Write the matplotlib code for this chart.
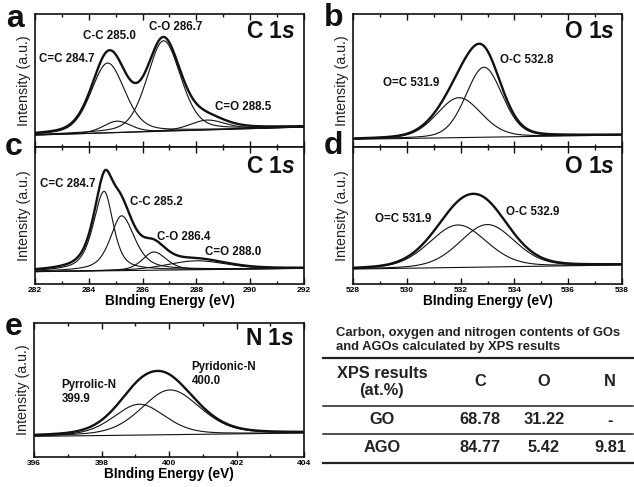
import numpy as np
import matplotlib
matplotlib.use("Agg")
import matplotlib.pyplot as plt
from matplotlib.lines import Line2D

plt.rcParams['font.family'] = ['Liberation Sans', 'DejaVu Sans']
plt.rcParams['mathtext.fontset'] = 'custom'
plt.rcParams['mathtext.it'] = 'Liberation Sans:italic:bold'
plt.rcParams['mathtext.rm'] = 'Liberation Sans:bold'

# ---------------- data ----------------
# panel a: C 1s of GO
a_range = [282, 292]
a_names = ["C=C 284.7", "C-C 285.0", "C-O 286.7", "C=O 288.5"]
a_centers = [284.70, 285.05, 286.78, 288.40]
a_heights = [52.5, 8.6, 68.0, 7.4]
a_fwhm_left = [1.45, 1.2, 1.45, 1.5]
a_fwhm_right = [1.5, 1.2, 1.5, 1.6]
a_eta = [0.3, 0.3, 0.3, 0.3]
a_background = [9.0, 15.0]

# panel b: O 1s of GO
b_range = [528, 538]
b_names = ["O=C 531.9", "O-C 532.8"]
b_centers = [531.94, 532.87]
b_heights = [30.0, 52.6]
b_fwhm_left = [1.95, 1.6]
b_fwhm_right = [1.95, 1.6]
b_eta = [0.2, 0.2]
b_background = [5.8, 9.0]

# panel c: C 1s of AGO
c_range = [282, 292]
c_names = ["C=C 284.7", "C-C 285.2", "C-O 286.4", "C=O 288.0"]
c_centers = [284.57, 285.22, 286.42, 288.0]
c_heights = [58.0, 40.0, 13.3, 6.5]
c_fwhm_left = [0.95, 1.0, 1.0, 2.6]
c_fwhm_right = [0.8, 1.15, 1.1, 2.6]
c_eta = [0.6, 0.6, 0.4, 0.3]
c_background = [9.0, 11.4]

# panel d: O 1s of AGO
d_range = [528, 538]
d_names = ["O=C 531.9", "O-C 532.9"]
d_centers = [531.90, 532.99]
d_heights = [31.0, 31.0]
d_fwhm_left = [2.5, 2.4]
d_fwhm_right = [2.5, 2.4]
d_eta = [0.2, 0.2]
d_background = [10.9, 13.9]

# panel e: N 1s of AGO
e_range = [396, 404]
e_names = ["Pyrrolic-N\n399.9", "Pyridonic-N\n400.0"]
e_centers = [399.12, 400.03]
e_heights = [23.0, 33.4]
e_fwhm_left = [1.8, 2.0]
e_fwhm_right = [1.8, 2.1]
e_eta = [0.3, 0.3]
e_background = [15.4, 17.9]

# table
table_title = "Carbon, oxygen and nitrogen contents of GOs\nand AGOs calculated by XPS results"
table_header = ["XPS results\n(at.%)", "C", "O", "N"]
table_samples = ["GO", "AGO"]
table_C = ["68.78", "84.77"]
table_O = ["31.22", "5.42"]
table_N = ["-", "9.81"]

# ---------------- drawing ----------------
W, H = 634, 487
fig = plt.figure(figsize=(W / 100, H / 100), dpi=100)

def fx(px):
    return px / W

def fy(py):
    return 1 - py / H

def add_ax(l, t, r, b):
    return fig.add_axes([fx(l), fy(b), fx(r) - fx(l), fy(t) - fy(b)])

INK = '#111111'

def voigt(x, c, h, wl, wr, eta):
    w = np.where(x < c, wl, wr) / 2.0
    u = ((x - c) / w) ** 2
    return h * ((1 - eta) * np.exp(-np.log(2) * u) + eta / (1 + u))

def draw_panel(ax, xr, centers, heights, wl, wr, eta, bg, show_xlabels):
    x = np.linspace(xr[0], xr[1], 800)
    base = np.interp(x, xr, bg)
    comps = [voigt(x, c, h, l, r, e) for c, h, l, r, e in zip(centers, heights, wl, wr, eta)]
    ax.plot(x, base, color=INK, lw=0.8)
    for comp in comps:
        ax.plot(x, base + comp, color=INK, lw=0.8)
    ax.plot(x, base + np.sum(comps, axis=0), color=INK, lw=1.7)
    ax.set_xlim(xr)
    ax.set_ylim(0, 100)
    ax.set_yticks([])
    ax.set_xticks(np.arange(xr[0], xr[1] + 0.1, 2))
    ax.set_xticks(np.arange(xr[0] + 1, xr[1], 2), minor=True)
    ax.tick_params(axis='x', which='both', direction='in', top=True, bottom=True,
                   width=1.0, color=INK, labelsize=6, pad=2)
    ax.tick_params(axis='x', which='major', length=4)
    ax.tick_params(axis='x', which='minor', length=2.5)
    for lab in ax.get_xticklabels():
        lab.set_fontweight('bold')
    if not show_xlabels:
        ax.tick_params(axis='x', labelbottom=False)
    else:
        ax.set_xlabel("BInding Energy (eV)", fontsize=9.8, fontweight='bold', labelpad=0)
    ax.set_ylabel("Intensity (a.u.)", fontsize=10.3, labelpad=3, color='#222222')
    for s in ax.spines.values():
        s.set_linewidth(1.2)
        s.set_color(INK)

lab_kw = dict(fontsize=8.3, fontweight='bold', color=INK, va='center', ha='left')
big_kw = dict(fontsize=16.5, fontweight='bold', color=INK, va='center', ha='right')

ax_a = add_ax(35, 14, 304, 147)
draw_panel(ax_a, a_range, a_centers, a_heights, a_fwhm_left, a_fwhm_right, a_eta, a_background, False)
ax_a.text(282.16, 65.9, a_names[0], **lab_kw)
ax_a.text(283.77, 83.5, a_names[1], **lab_kw)
ax_a.text(286.24, 90.5, a_names[2], **lab_kw)
ax_a.text(288.69, 30.3, a_names[3], **lab_kw)
ax_a.text(291.7, 87, "C 1$s$", **big_kw)

ax_c = add_ax(35, 147, 304, 284)
draw_panel(ax_c, c_range, c_centers, c_heights, c_fwhm_left, c_fwhm_right, c_eta, c_background, True)
ax_c.text(282.19, 72.8, c_names[0], **lab_kw)
ax_c.text(285.53, 60.1, c_names[1], **lab_kw)
ax_c.text(286.52, 34.5, c_names[2], **lab_kw)
ax_c.text(288.32, 23.1, c_names[3], **lab_kw)
ax_c.text(291.7, 86, "C 1$s$", **big_kw)

ax_b = add_ax(353, 14, 622, 147)
draw_panel(ax_b, b_range, b_centers, b_heights, b_fwhm_left, b_fwhm_right, b_eta, b_background, False)
ax_b.text(529.12, 47.9, b_names[0], **lab_kw)
ax_b.text(533.45, 65.4, b_names[1], **lab_kw)
ax_b.text(537.73, 87, "O 1$s$", **big_kw)

ax_d = add_ax(353, 147, 622, 284)
draw_panel(ax_d, d_range, d_centers, d_heights, d_fwhm_left, d_fwhm_right, d_eta, d_background, True)
ax_d.text(528.81, 47.4, d_names[0], **lab_kw)
ax_d.text(533.7, 52.8, d_names[1], **lab_kw)
ax_d.text(537.73, 86, "O 1$s$", **big_kw)

ax_e = add_ax(34, 323, 304, 457)
draw_panel(ax_e, e_range, e_centers, e_heights, e_fwhm_left, e_fwhm_right, e_eta, e_background, True)
ax_e.text(396.82, 48.5, e_names[0], linespacing=1.25, **lab_kw)
ax_e.text(400.67, 61.7, e_names[1], linespacing=1.25, **lab_kw)
ax_e.text(403.73, 88.5, "N 1$s$", **big_kw)

# panel letters
for letter, px, py in [("a", 15, 19), ("b", 334, 18), ("c", 14, 147), ("d", 333, 146), ("e", 13.5, 327)]:
    fig.text(fx(px), fy(py), letter, fontsize=23, fontweight='bold', color=INK,
             ha='center', va='center')

# ---------------- table ----------------
TC = '#222222'
fig.text(fx(336), fy(340), table_title, fontsize=9.4, fontweight='bold', color=TC,
         ha='left', va='center', linespacing=1.15)

for py, lw in [(358, 1.6), (406, 1.1), (434, 1.1), (463, 1.6)]:
    fig.add_artist(Line2D([fx(323), fx(633)], [fy(py), fy(py)], color=TC, lw=lw))

col_x = [382, 480, 544, 610]
fig.text(fx(col_x[0]), fy(382), table_header[0], fontsize=11.8, fontweight='bold',
         color=TC, ha='center', va='center', linespacing=1.2)
for cx, txt in zip(col_x[1:], table_header[1:]):
    fig.text(fx(cx), fy(382), txt, fontsize=11.8, fontweight='bold', color=TC,
             ha='center', va='center')

for i, ry in enumerate([420, 448]):
    row = [table_samples[i], table_C[i], table_O[i], table_N[i]]
    for cx, txt in zip(col_x, row):
        fig.text(fx(cx), fy(ry), txt, fontsize=11.8, fontweight='bold', color=TC,
                 ha='center', va='center')

fig.savefig("out.png", dpi=100)
